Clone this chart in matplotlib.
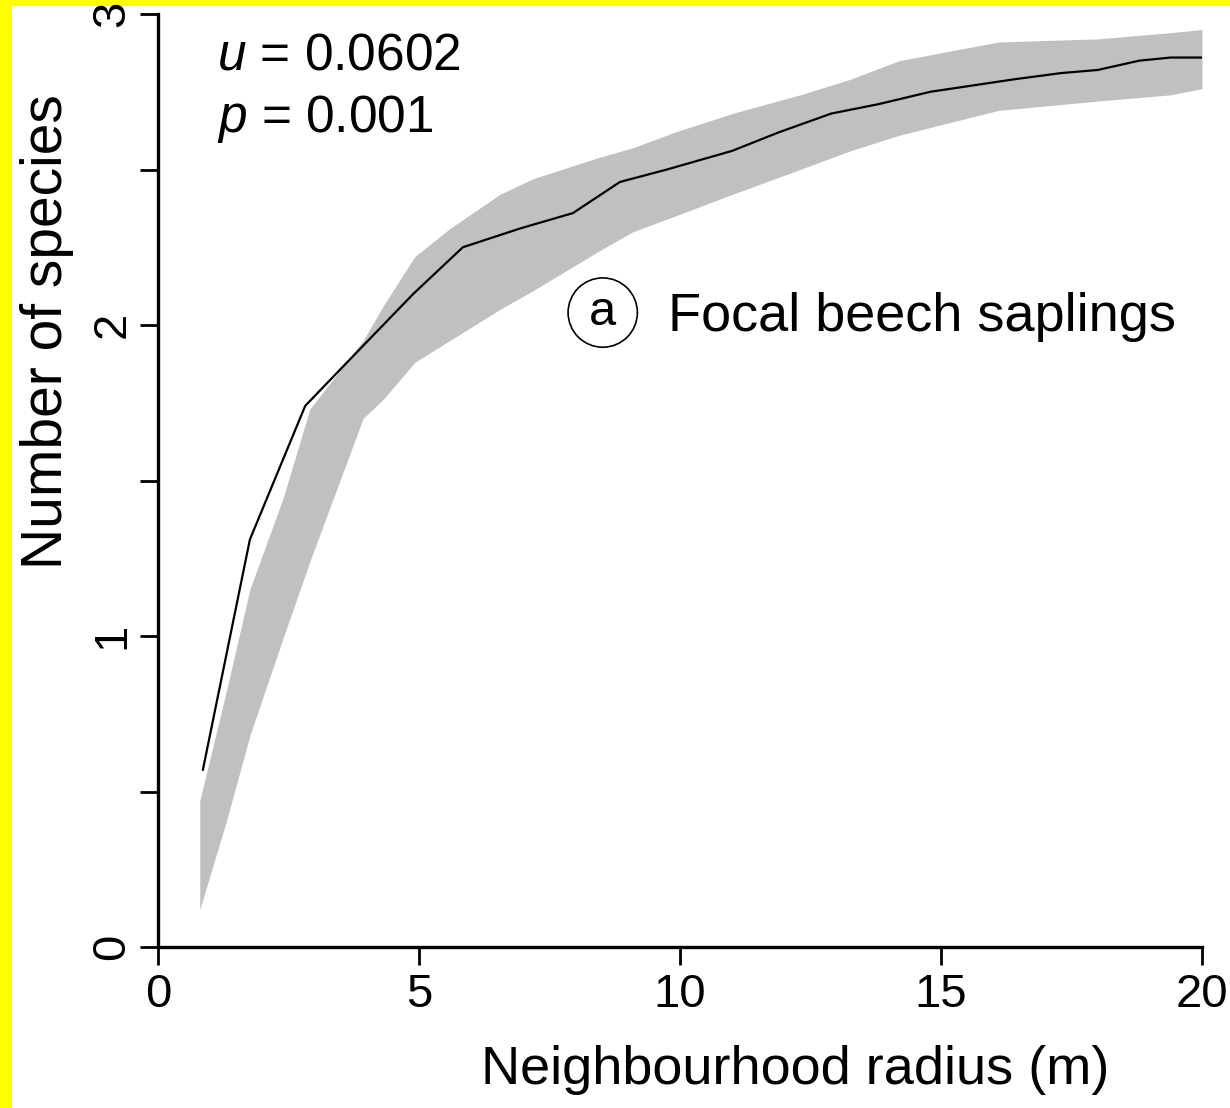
import matplotlib.pyplot as plt
from matplotlib.patches import Rectangle

plt.rcParams['font.family'] = ['Liberation Sans', 'DejaVu Sans']
plt.rcParams['mathtext.fontset'] = 'custom'
plt.rcParams['mathtext.rm'] = 'Liberation Sans'
plt.rcParams['mathtext.it'] = 'Liberation Sans:italic'

# observed mean number of species vs neighbourhood radius
radius = [0.86, 1.76, 2.82, 3.68, 4.89, 5.84, 6.93, 7.95, 8.85, 9.75,
          11.0, 11.9, 12.9, 13.8, 14.8, 15.6, 16.4, 17.3, 18.0, 18.8,
          19.4, 20.0]
species = [0.57, 1.31, 1.74, 1.89, 2.10, 2.25, 2.31, 2.36, 2.46, 2.50,
           2.56, 2.62, 2.68, 2.71, 2.75, 2.77, 2.79, 2.81, 2.82, 2.85,
           2.86, 2.86]

# null model envelope (grey band)
env_x = [0.80, 1.32, 1.76, 2.39, 2.91, 3.93, 4.31, 4.92, 5.59, 6.55,
         7.18, 8.47, 9.10, 9.90, 11.0, 12.3, 13.26, 14.2, 16.1, 18.0,
         19.4, 20.0]
env_low = [0.12, 0.41, 0.68, 0.99, 1.24, 1.70, 1.76, 1.88, 1.95, 2.05,
           2.11, 2.24, 2.30, 2.35, 2.42, 2.50, 2.56, 2.61, 2.69, 2.72,
           2.74, 2.76]
env_high = [0.47, 0.83, 1.15, 1.44, 1.73, 1.95, 2.06, 2.22, 2.31, 2.42,
            2.47, 2.54, 2.57, 2.62, 2.68, 2.74, 2.79, 2.85, 2.91, 2.92,
            2.94, 2.95]

x_ticks = [0, 5, 10, 15, 20]
y_ticks = [0, 1, 2, 3]
y_minor = [0.5, 1.5, 2.5]

W, H = 1230, 1108
fig = plt.figure(figsize=(W / 100, H / 100), dpi=100)
fig.patch.set_facecolor('#ffff00')
fig.add_artist(Rectangle((12 / W, 0), 1, 1 - 6 / H, transform=fig.transFigure,
                         facecolor='white', edgecolor='none', zorder=-1))

ax = fig.add_axes([158 / W, 161 / H, (1202 - 158) / W, (947 - 14) / H])
ax.set_facecolor('white')

ax.fill_between(env_x, env_low, env_high, color='#c0c0c0', lw=0)
ax.plot(radius, species, color='black', lw=1.6)

ax.set_xlim(0, 20)
ax.set_ylim(0, 3)
ax.set_xticks(x_ticks)
ax.set_yticks(y_ticks)
ax.set_yticks(y_minor, minor=True)

for s in ['top', 'right']:
    ax.spines[s].set_visible(False)
for s in ['left', 'bottom']:
    ax.spines[s].set_linewidth(2.4)

ax.tick_params(which='both', direction='out', length=13, width=2,
               labelsize=34)
ax.tick_params(axis='x', pad=6)
ax.tick_params(axis='y', pad=4, labelrotation=90)
for lab in ax.get_yticklabels():
    lab.set_va('center')

ax.set_xlabel('Neighbourhood radius (m)', fontsize=39)
ax.xaxis.set_label_coords(0.61, -0.105)
ax.set_ylabel('Number of species', fontsize=41)
ax.yaxis.set_label_coords(-0.08, 0.66)

ax.text(1.13, 2.82, r'$u$ = 0.0602', fontsize=37, va='baseline')
ax.text(1.13, 2.62, r'$p$ = 0.001', fontsize=37, va='baseline')

ax.text(8.52, 2.04, 'a', fontsize=35, ha='center', va='center',
        bbox=dict(boxstyle='circle,pad=0.25', fc='none', ec='black', lw=1.2))
ax.text(9.77, 1.98, 'Focal beech saplings', fontsize=39, va='baseline')

fig.savefig('out.png', dpi=100)
